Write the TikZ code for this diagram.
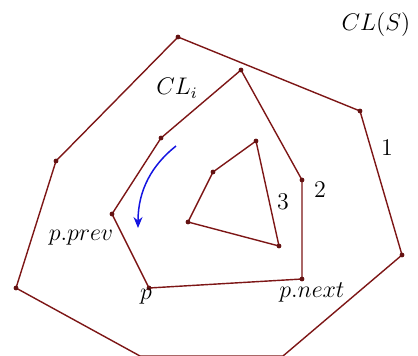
\documentclass[tikz,border=0pt]{standalone}
\usetikzlibrary{arrows.meta}
\definecolor{hullred}{RGB}{125,22,22}
\definecolor{arrblue}{RGB}{20,20,225}
\tikzset{
  edge/.style={draw=hullred, line width=0.7pt, line join=round},
  vdot/.style={fill=hullred!80!black},
  lbl/.style={font=\fontsize{11.8}{13}\selectfont, inner sep=0pt},
}
\begin{document}
\begin{tikzpicture}[x=0.5pt,y=-0.5pt]
\useasboundingbox (0,0) rectangle (418,355);
% outer hull
\coordinate (o1) at (178,37);
\coordinate (o2) at (360,111);
\coordinate (o3) at (402,255);
\coordinate (o4) at (283,356);
\coordinate (o5) at (140,356);
\coordinate (o6) at (16,288);
\coordinate (o7) at (56,161);
% middle layer
\coordinate (m1) at (241,70);
\coordinate (m2) at (302,180);
\coordinate (m3) at (302,279);
\coordinate (m4) at (149,288);
\coordinate (m5) at (112,214);
\coordinate (m6) at (161,138);
% inner layer
\coordinate (i1) at (256,141);
\coordinate (i2) at (279,246);
\coordinate (i3) at (188,222);
\coordinate (i4) at (213,172);
\draw[edge] (o1) -- (o2) -- (o3) -- (o4) -- (o5) -- (o6) -- (o7) -- cycle;
\draw[edge] (m1) -- (m2) -- (m3) -- (m4) -- (m5) -- (m6) -- cycle;
\draw[edge] (i1) -- (i2) -- (i3) -- (i4) -- cycle;
\foreach \p in {o1,o2,o3,o6,o7,m1,m2,m3,m4,m5,m6,i1,i2,i3,i4}
  \fill[vdot] (\p) circle (1.2pt);
% arrow
\coordinate (a1) at (176,146);
\coordinate (a2) at (138,228);
\draw[arrblue, line width=0.75pt, -{Stealth[length=5.5pt,width=4.5pt]}] (a1) .. controls (152,165) and (138,190) .. (a2);
% labels
\node[lbl] (ls) at (376,24) {$CL(S)$};
\node[lbl] (li) at (177,88) {$CL_i$};
\node[lbl] (l1) at (387,148) {$1$};
\node[lbl] (l2) at (320,190) {$2$};
\node[lbl] (l3) at (283,202) {$3$};
\node[lbl] (lpp) at (81,238) {$p.prev$};
\node[lbl] (lp) at (146,297) {$p$};
\node[lbl] (lpn) at (312,292) {$p.next$};
\end{tikzpicture}
\end{document}
